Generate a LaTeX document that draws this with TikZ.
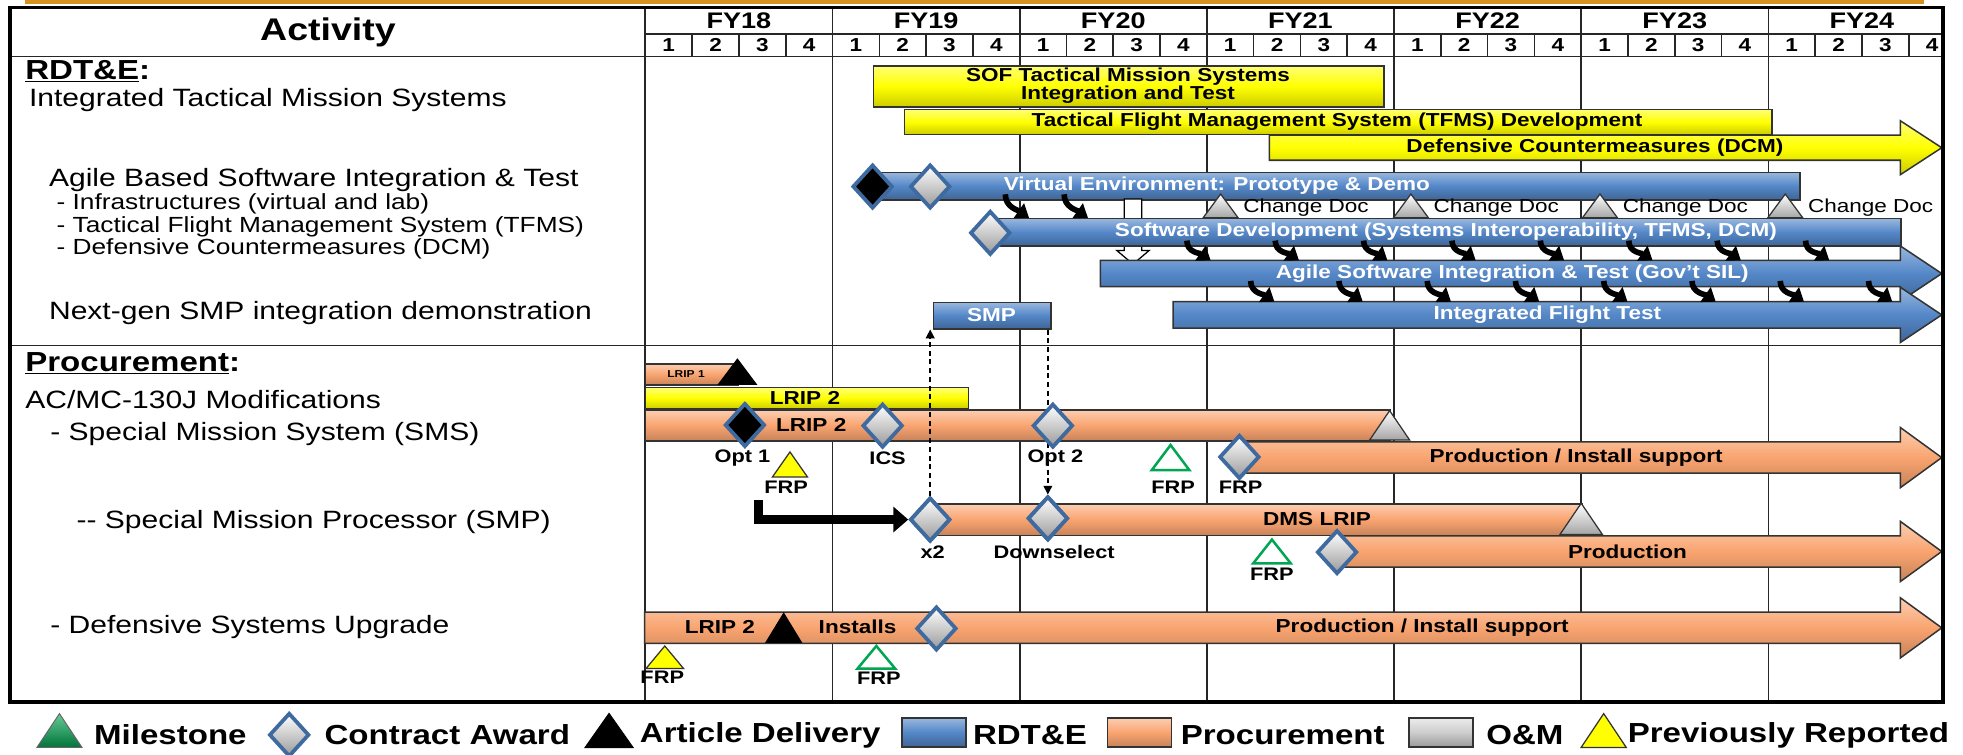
\documentclass[tikz,border=0pt]{standalone}
\usepackage{fontspec}
\setmainfont{Liberation Sans}[FakeStretch=1.2]
\usetikzlibrary{shapes.geometric, arrows.meta}

\definecolor{cyel}{RGB}{255,255,0}
\definecolor{cblue}{RGB}{84,135,200}
\definecolor{corange}{RGB}{249,164,112}
\definecolor{cgray}{RGB}{205,205,205}
\definecolor{cgreen}{RGB}{0,166,81}
\definecolor{cdia}{RGB}{62,106,160}
\definecolor{cgold}{RGB}{214,146,30}

\def\xorig{515.5}
\def\yearw{149.5}
\def\headx{1518}
\def\tipx{1551}

\tikzset{
  gridline/.style={draw=black!85, line width=1.3}
}
\tikzset{
  bar/.style={
    rectangle,
    draw=black!80,
    line width=1.2,
    inner sep=0pt
  },
  bar yellow/.style={top color=cyel!55!white, bottom color=cyel!80!black, middle color=cyel},
  bar blue/.style={top color=cblue!60!white, bottom color=cblue!75!black, middle color=cblue},
  bar orange/.style={top color=corange!55!white, bottom color=corange!80!black, middle color=corange},
  bar gray/.style={top color=cgray!40!white, bottom color=cgray!75!black, middle color=cgray},
  txt yellow/.style={},
  txt blue/.style={text=white},
  txt orange/.style={}
}
\tikzset{
  bartext/.style={
    inner sep=0pt,
    align=center,
    font=\fontsize{15}{14}\selectfont\bfseries
  }
}
\tikzset{
  award/.style={diamond, draw=cdia, line width=3, top color=white, bottom color=black!40, minimum width=32, minimum height=35, inner sep=0pt},
  delivered/.style={diamond, draw=cdia, line width=3, fill=black, minimum width=32, minimum height=35, inner sep=0pt}
}
\tikzset{
  milestone/.style={draw=cgreen, line width=2, fill=white},
  legmile/.style={draw=black!60, line width=0.8, top color=cgreen!60!white, bottom color=cgreen!70!black},
  om/.style={draw=black!80, line width=1, top color=white, bottom color=cgray!80!black},
  prev/.style={draw=black!80, line width=1, fill=cyel},
  article/.style={draw=black, line width=1, fill=black}
}
\tikzset{
  hdr/.style={inner sep=0pt, font=\fontsize{25}{27}\selectfont\bfseries},
  fyt/.style={inner sep=0pt, font=\fontsize{18}{20}\selectfont\bfseries},
  qtr/.style={inner sep=0pt, font=\fontsize{15}{16}\selectfont\bfseries},
  head/.style={anchor=west, inner sep=0pt, font=\fontsize{22}{24}\selectfont\bfseries},
  lbl/.style={anchor=west, inner sep=0pt, font=\fontsize{20}{22}\selectfont},
  sublbl/.style={anchor=west, inner sep=0pt, font=\fontsize{17.5}{19}\selectfont},
  cdoc/.style={anchor=west, inner sep=0pt, font=\fontsize{15}{16}\selectfont},
  tag/.style={inner sep=0pt, font=\fontsize{14.5}{15}\selectfont\bfseries},
  legtext/.style={anchor=west, inner sep=0pt, font=\fontsize{22}{24}\selectfont\bfseries}
}
\tikzstyle{curl} = [line width=4.5, -{Triangle[length=10pt, width=14pt]}]
\tikzstyle{dasharrow} = [line width=1.2, dash pattern=on 4pt off 3pt, -{Triangle[length=7pt, width=7pt]}]
\tikzstyle{thickarrow} = [line width=7, line join=miter, -{Triangle[length=12pt, width=20pt]}]

% colour, name, x1, x2, ytop, ybot, text x, text
\newcommand\gbar[8]{%
  \node[bar, bar #1, minimum width={#4-#3}, minimum height={#6-#5}, anchor=north west] (#2) at (#3,#5) {};
  \node[bartext, txt #1] (#2-txt) at (#7,{(#5+#6)/2}) {#8};}
% colour, name, x1, ytop, ybot, text x, text
\newcommand\garrow[7]{%
  \path[bar #1, draw=black!80, line width=1.2, line join=miter] (#3,#4) -- (\headx,#4) -- (\headx,#4-11.5) -- (\tipx,{(#4+#5)/2}) -- (\headx,#5+11.5) -- (\headx,#5) -- (#3,#5) -- cycle;
  \node[rectangle, inner sep=0pt, minimum width={\headx-#3}, minimum height={#5-#4}, anchor=north west] (#2) at (#3,#4) {};
  \node[bartext, txt #1] (#2-txt) at (#6,{(#4+#5)/2}) {#7};}
% style, x, ybase, width, height
\newcommand\tri[5]{%
  \path[#1] ({#2-#4/2},#3) -- (#2,#3-#5) -- ({#2+#4/2},#3) -- cycle;}

\begin{document}
\begin{tikzpicture}[x=1pt, y=-1pt]
  \useasboundingbox (0,0) rectangle (1568,603);
  \fill[white] (0,0) rectangle (1568,603);
  \fill[cgold] (20,0) rectangle (1537,3);

  \draw[gridline] (515,27) -- (1552,27);
  \draw[gridline] (8,45) -- (1552,45);
  \draw[gridline] (8,276) -- (1552,276);
  \draw[gridline] (515,6) -- (515,561);
  \foreach \k in {1,...,6}
    \draw[gridline] ({\xorig+\yearw*\k},6) -- ({\xorig+\yearw*\k},561);
  \foreach \k in {0,...,6}
    \foreach \q in {1,2,3}
      \draw[gridline] ({\xorig+\yearw*(\k+\q/4)},27) -- ({\xorig+\yearw*(\k+\q/4)},45);

  \node[hdr] (act) at (262,26) {Activity};
  \foreach \k/\fy in {0/18,1/19,2/20,3/21,4/22,5/23,6/24}
    \node[fyt] (fy\fy) at ({\xorig+\yearw*(\k+0.5)},16.5) {FY\fy};
  \foreach \k in {0,...,6}
    \foreach \q in {1,...,4}
      \node[qtr] (q\k\q) at ({\xorig+\yearw*(\k+(\q-0.5)/4)},36) {\q};

  \node[head] (rdte) at (20,57) {\underline{RDT\&E}:};
  \node[lbl] (itms) at (23,80) {Integrated Tactical Mission Systems};
  \node[lbl] (agile-l) at (39,144) {Agile Based Software Integration \& Test};
  \node[sublbl] (infra-l) at (45,163) {- Infrastructures (virtual and lab)};
  \node[sublbl] (tfms-l) at (45,181) {- Tactical Flight Management System (TFMS)};
  \node[sublbl] (dcm-l) at (45,199) {- Defensive Countermeasures (DCM)};
  \node[lbl] (smp-l) at (39,250) {Next-gen SMP integration demonstration};
  \node[head] (proc) at (20,290) {\underline{Procurement}:};
  \node[lbl] (acmc) at (20,319) {AC/MC-130J Modifications};
  \node[lbl] (sms-l) at (40,347) {- Special Mission System (SMS)};
  \node[lbl] (smp2-l) at (61,417) {-{}- Special Mission Processor (SMP)};
  \node[lbl] (dsu-l) at (40,501) {- Defensive Systems Upgrade};

  \gbar{yellow}{sof}{697}{1105}{52}{85}{901}{SOF Tactical Mission Systems\\Integration and Test}
  \gbar{yellow}{tfms}{722}{1415}{87}{107}{1068}{Tactical Flight Management System (TFMS) Development}
  \garrow{yellow}{dcm}{1014}{108}{128}{1274}{Defensive Countermeasures (DCM)}
  \gbar{blue}{ve}{690}{1437}{137}{159}{972}{Virtual Environment: Prototype \& Demo}
  \coordinate (wa) at (905,159);
  \draw[fill=white, line width=1] (wa) ++(-7,0) -- ++(0,41) -- ++(-6,0) -- ++(13,11) -- ++(13,-11) -- ++(-6,0) -- ++(0,-41) -- cycle;
  \gbar{blue}{sd}{790}{1518}{174}{196}{1155}{Software Development (Systems Interoperability, TFMS, DCM)}
  \garrow{blue}{agile}{879}{208}{229}{1208}{Agile Software Integration \& Test (Gov't SIL)}
  \gbar{blue}{smp}{745}{839}{241}{262}{792}{SMP}
  \garrow{blue}{ift}{937}{241}{262}{1236}{Integrated Flight Test}
  \foreach \x in {975,1127,1278,1426} {
    \tri{om}{\x}{174}{28}{19}
    \node[cdoc] (cd\x) at (\x+18,166) {Change Doc};
  }
  \foreach \x in {813,860}
    \draw[curl] ([yshift=5pt]\x-10,0 |- ve.south) to[out=-90, in=145] (\x+9,0 |- sd.north);
  \foreach \k [evaluate=\k as \x using 958+70.6*\k] in {0,...,7}
    \draw[curl] ([yshift=5pt]\x-10,0 |- sd.south) to[out=-90, in=145] (\x+9,0 |- agile.north);
  \foreach \k [evaluate=\k as \x using 1009+70.5*\k] in {0,...,7}
    \draw[curl] ([yshift=5pt]\x-10,0 |- agile.south) to[out=-90, in=145] (\x+9,0 |- ift.north);

  \gbar{orange}{lrip1}{515}{589}{290}{307}{548}{\fontsize{8}{8}\selectfont LRIP 1}
  \tri{article}{589}{307}{30}{20}
  \gbar{yellow}{lripy}{515}{773}{309}{326}{643}{LRIP 2}
  \gbar{orange}{lrip2}{515}{1110}{327}{351.5}{648}{LRIP 2}
  \tri{om}{1110}{351.5}{32}{23.5}
  \garrow{orange}{smsprod}{990}{353}{378}{1259}{Production / Install support}
  \gbar{orange}{dms}{743}{1263}{402}{427}{1052}{DMS LRIP}
  \tri{om}{1263}{427}{34}{25}
  \garrow{orange}{prod}{1068}{428}{453}{1300}{Production}
  \garrow{orange}{dsu}{515}{489}{514}{1136}{Production / Install support}
  \node[bartext] (dsu-lrip) at (575,501) {LRIP 2};
  \node[bartext] (dsu-inst) at (685,501) {Installs};
  \tri{article}{626}{513}{28}{23}

  \tri{prev}{631}{381}{28}{20}
  \tri{milestone}{935}{375.5}{30}{20}
  \tri{milestone}{1016}{450}{30}{19}
  \tri{prev}{531}{534}{30}{18}
  \tri{milestone}{700}{534}{30}{18}

  \node[award] (dx2) at (743,415) {};
  \node[award] (dsel) at (837,414) {};
  \draw[dasharrow] (dx2.north) -- (dx2 |- smp.south);
  \draw[dasharrow] (dsel |- smp.south) -- (dsel.north);
  \node[award] (dx2) at (743,415) {};
  \node[award] (dsel) at (837,414) {};
  \coordinate (lstart) at (606,399);
  \draw[thickarrow] (lstart) |- (dx2.west);

  \node[delivered] (dve1) at (697,149) {};
  \node[award] (dve2) at (743,149) {};
  \node[award] (dsd) at (791,186) {};
  \node[delivered] (dopt1) at (595,339.5) {};
  \node[award] (dics) at (705,340) {};
  \node[award] (dopt2) at (841,340) {};
  \node[award] (dfrp) at (990,365) {};
  \node[award] (dprod) at (1068,441) {};
  \node[award] (ddsu) at (748,502) {};

  \node[tag] (lopt1) at (593,366) {Opt 1};
  \node[tag] (lics) at (709,366) {ICS};
  \node[tag] (lopt2) at (843,366) {Opt 2};
  \node[tag] (frp1) at (628,389) {FRP};
  \node[tag] (frp2) at (937,389) {FRP};
  \node[tag] (frp3) at (991,389) {FRP};
  \node[tag] (lx2) at (745,441) {x2};
  \node[tag] (lsel) at (842,441) {Downselect};
  \node[tag] (frp4) at (1016,459) {FRP};
  \node[tag] (frp5) at (529,541) {FRP};
  \node[tag] (frp6) at (702,542) {FRP};

  \draw[line width=3] (8,6) rectangle (1552,561);

  \tri{legmile}{47.5}{597}{36}{27}
  \node[legtext] (lg1) at (75,587) {Milestone};
  \node[award] (lgaward) at (231,587) {};
  \node[legtext] (lg2) at (259,587) {Contract Award};
  \tri{article}{486.5}{597}{38}{27}
  \node[legtext] (lg3) at (511,587) {Article Delivery};
  \node[bar, bar blue, minimum width=51, minimum height=23, anchor=west] (lgblue) at (720,585) {};
  \node[legtext] (lg4) at (777,587) {RDT\&E};
  \node[bar, bar orange, minimum width=51, minimum height=23, anchor=west] (lgorange) at (884,585) {};
  \node[legtext] (lg5) at (943,587) {Procurement};
  \node[bar, bar gray, minimum width=51, minimum height=23, anchor=west] (lggray) at (1125,585) {};
  \node[legtext] (lg6) at (1187,587) {O\&M};
  \tri{prev}{1281}{597}{36}{27}
  \node[legtext] (lg7) at (1300,587) {Previously Reported};
\end{tikzpicture}
\end{document}
